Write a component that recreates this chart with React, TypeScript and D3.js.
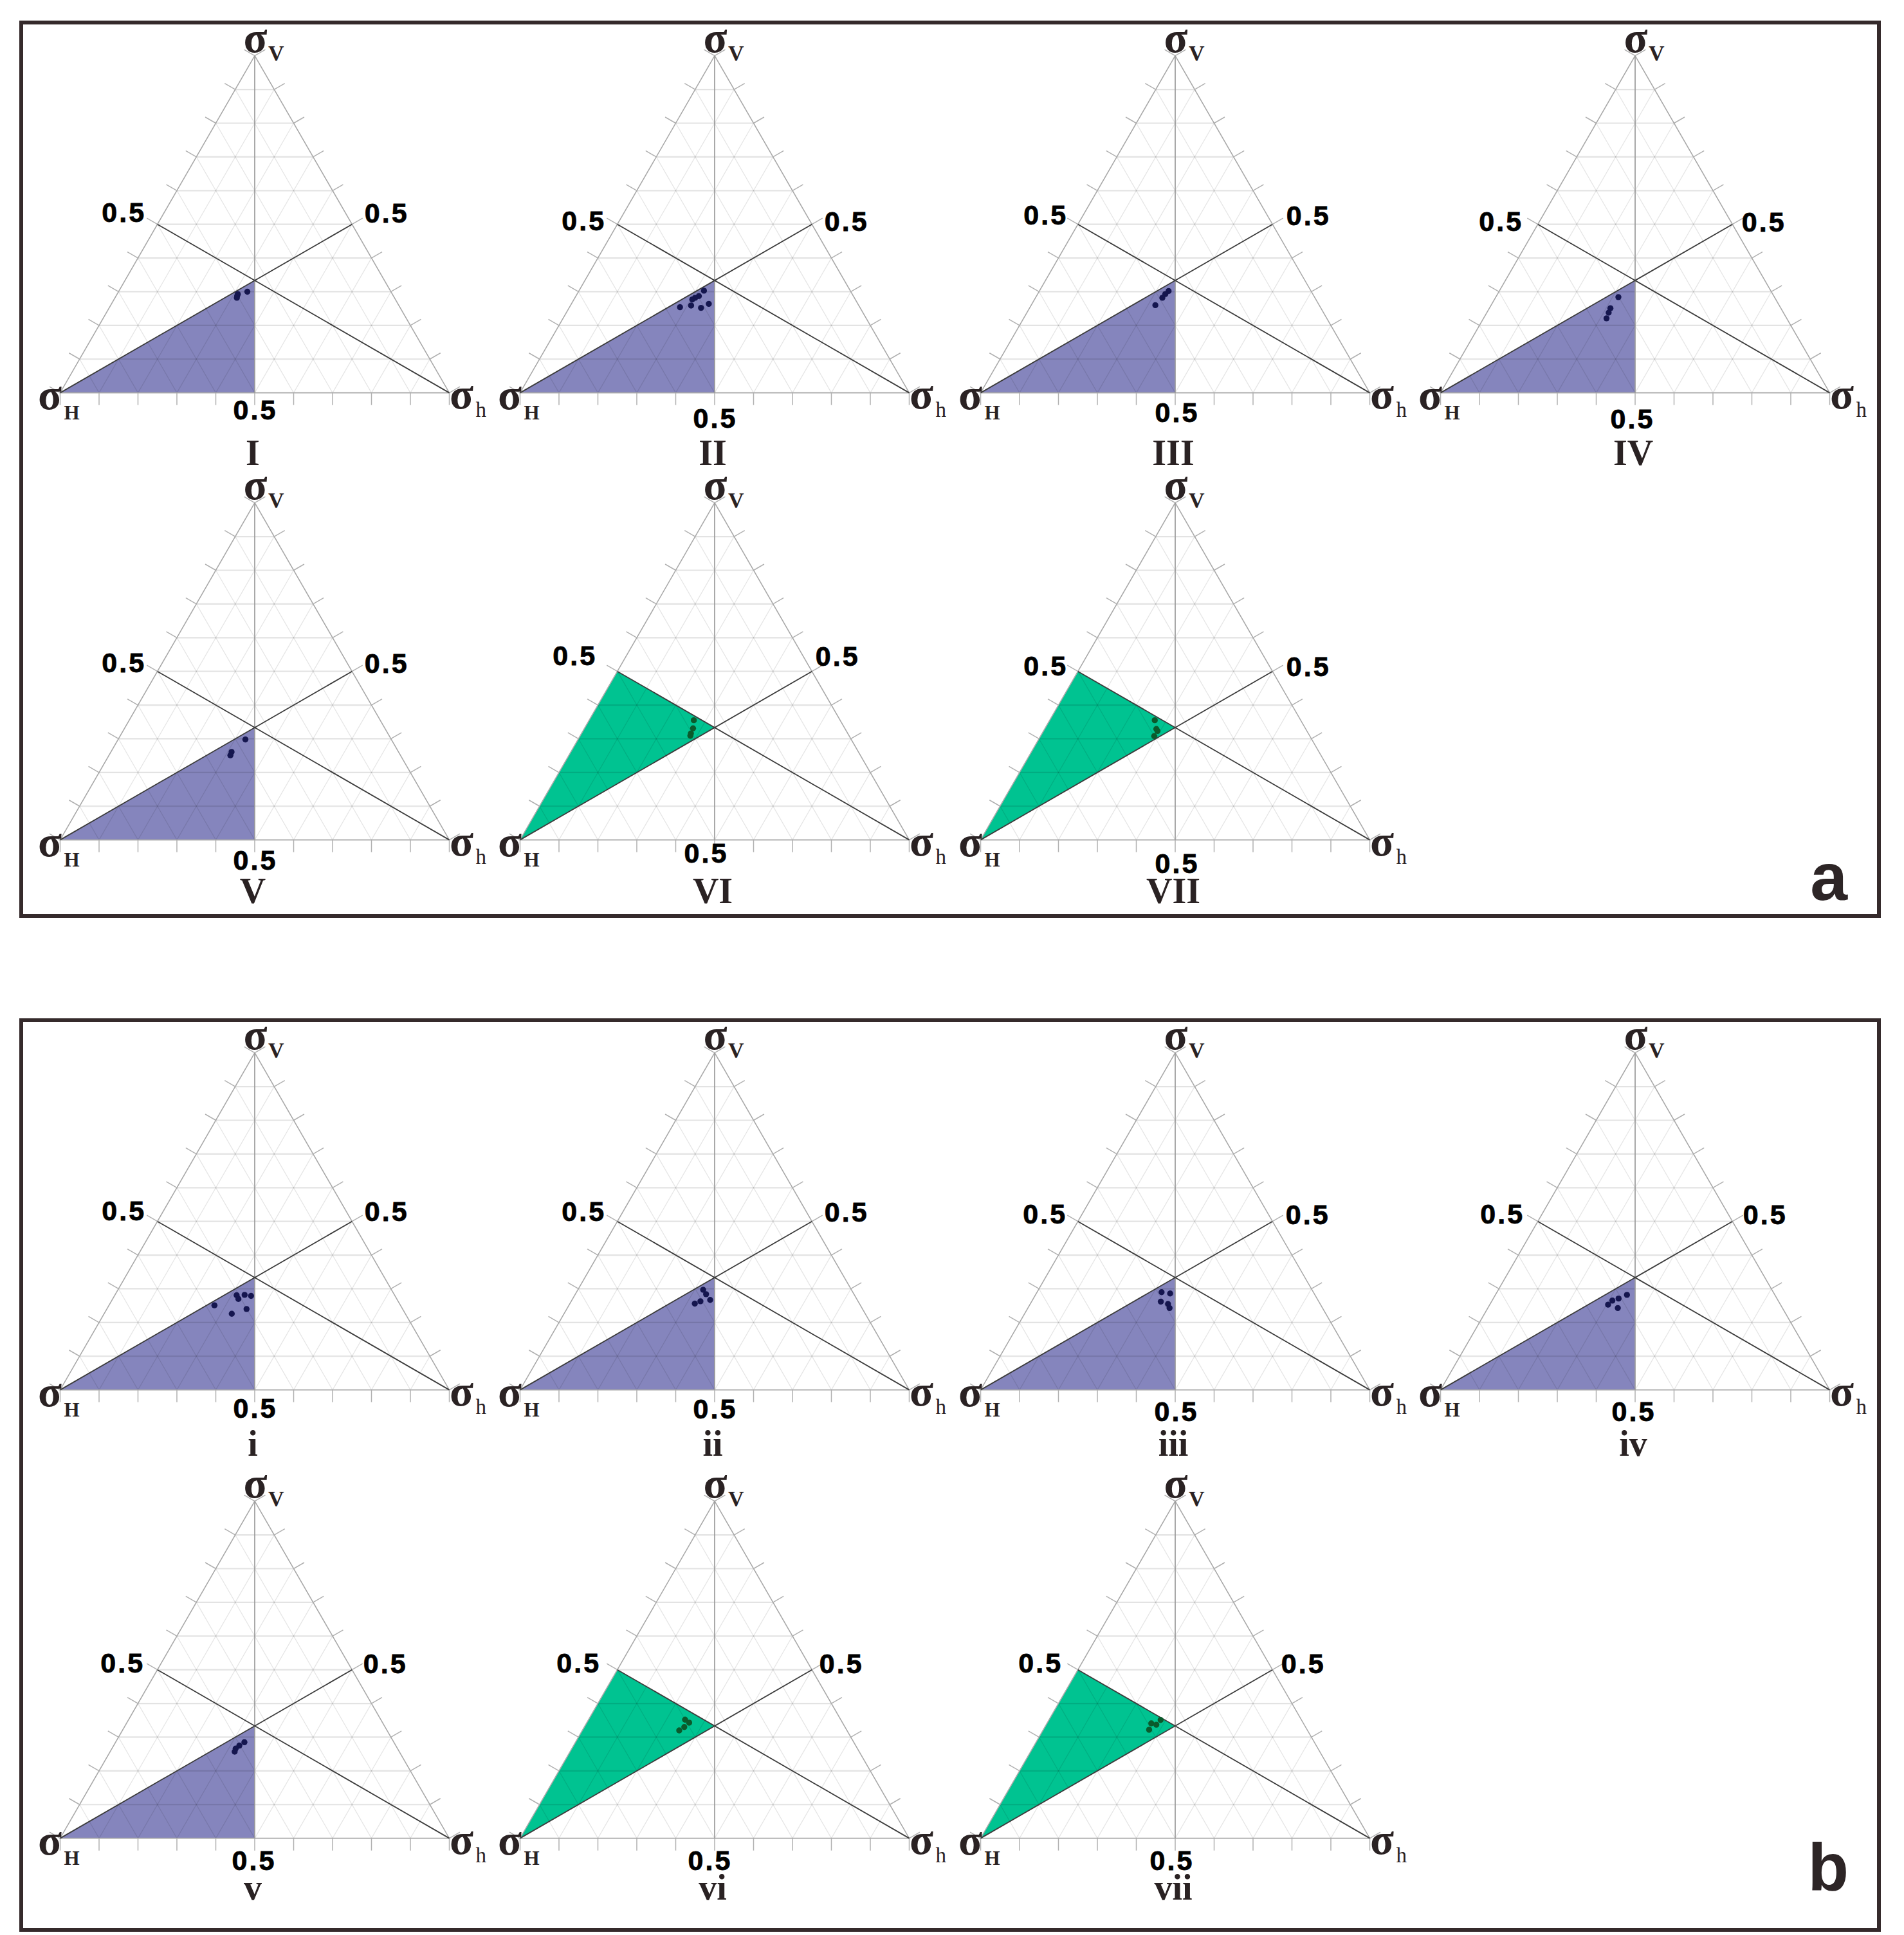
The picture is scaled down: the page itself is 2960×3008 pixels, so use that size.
import React, { useEffect, useRef } from 'react';
import * as d3 from 'd3';

// every point is [σH, σV, σh]
const panelNames = ['I', 'II', 'III', 'IV', 'V', 'VI', 'VII', 'i', 'ii', 'iii', 'iv', 'v', 'vi', 'vii'];
const panelRegimes = ['ss', 'ss', 'ss', 'ss', 'ss', 'tf', 'tf', 'ss', 'ss', 'ss', 'ss', 'ss', 'tf', 'tf'];

const dotsI = [[0.369, 0.300, 0.331], [0.397, 0.293, 0.310], [0.401, 0.288, 0.311], [0.405, 0.282, 0.313]];
const dotsII = [[0.376, 0.303, 0.321], [0.397, 0.287, 0.316], [0.409, 0.282, 0.309], [0.419, 0.277, 0.304],
    [0.462, 0.254, 0.284], [0.431, 0.259, 0.310], [0.409, 0.252, 0.339], [0.383, 0.264, 0.353]];
const dotsIII = [[0.366, 0.302, 0.332], [0.379, 0.293, 0.328], [0.392, 0.282, 0.326], [0.421, 0.260, 0.319]];
const dotsIV = [[0.401, 0.284, 0.315], [0.438, 0.251, 0.311], [0.449, 0.238, 0.313], [0.463, 0.221, 0.316]];
const dotsV = [[0.375, 0.298, 0.327], [0.429, 0.261, 0.310], [0.437, 0.251, 0.312]];
const dotsVI = [[0.376, 0.355, 0.269], [0.390, 0.331, 0.279], [0.403, 0.316, 0.281], [0.408, 0.309, 0.283]];
const dotsVII = [[0.375, 0.355, 0.270], [0.384, 0.329, 0.287], [0.384, 0.323, 0.293], [0.400, 0.308, 0.292]];
const dots_i = [[0.478, 0.251, 0.271], [0.406, 0.281, 0.313], [0.407, 0.270, 0.323], [0.385, 0.282, 0.333],
    [0.370, 0.279, 0.351], [0.446, 0.226, 0.328], [0.401, 0.240, 0.359]];
const dots_ii = [[0.381, 0.297, 0.322], [0.380, 0.284, 0.336], [0.378, 0.267, 0.355], [0.405, 0.263, 0.332], [0.423, 0.256, 0.321]];
const dots_iii = [[0.390, 0.290, 0.320], [0.370, 0.286, 0.344], [0.406, 0.262, 0.332], [0.391, 0.255, 0.354], [0.393, 0.243, 0.364]];
const dots_iv = [[0.380, 0.282, 0.338], [0.407, 0.271, 0.322], [0.426, 0.265, 0.309], [0.443, 0.253, 0.304], [0.423, 0.243, 0.334]];
const dots_v = [[0.384, 0.285, 0.331], [0.402, 0.275, 0.323], [0.416, 0.266, 0.318], [0.423, 0.257, 0.320]];
const dots_vi = [[0.400, 0.352, 0.248], [0.394, 0.343, 0.263], [0.413, 0.330, 0.257], [0.431, 0.320, 0.249]];
const dots_vii = [[0.362, 0.351, 0.287], [0.391, 0.341, 0.268], [0.380, 0.337, 0.283], [0.406, 0.322, 0.272]];

const panelDots = [dotsI, dotsII, dotsIII, dotsIV, dotsV, dotsVI, dotsVII,
    dots_i, dots_ii, dots_iii, dots_iv, dots_v, dots_vi, dots_vii];

const gridSteps = [0.1, 0.2, 0.3, 0.4, 0.5, 0.6, 0.7, 0.8, 0.9];
const tickSteps = [0, 0.1, 0.2, 0.3, 0.4, 0.5, 0.6, 0.7, 0.8, 0.9, 1];
const tickLabelValue = 0.5;
const tickLabelText = '0.5';
const figureLetters = ['a', 'b'];

// layout (pixels)
const W = 2960, H = 3008;
const SIDE = 605;
const SQ3 = Math.sqrt(3);
const HT = SIDE * SQ3 / 2;
const COL_X = [396, 1111, 1827, 2542];
const ROW_Y = [436, 1131, 1986, 2683];
const panelCell = [[0, 0], [1, 0], [2, 0], [3, 0], [0, 1], [1, 1], [2, 1],
    [0, 2], [1, 2], [2, 2], [3, 2], [0, 3], [1, 3], [2, 3]];
const labelShift = [[0, 0], [0, 13], [2, 4], [-5, 14], [0, 5], [-14, -6], [2, 10],
    [0, 2], [0, 3], [1, 7], [-3, 7], [-2, 8], [-8, 8], [-6, 8]];
const numeralDy = [287, 273, 277, 270];
const frames = [[33, 35, 2921, 1424], [33, 1586, 2921, 3000]];
const letterPos = [[2872, 1399], [2874, 2938]];

const FILL = { ss: '#8585bd', tf: '#00c391' };
const DOT = { ss: '#15164f', tf: '#0b5a2c' };
const INK = '#2a2223';

const App = () => {
    const svgRef = useRef(null);

    useEffect(() => {
        const svg = d3.select(svgRef.current);
        svg.selectAll('*').remove();

        svg.append('rect').attr('width', W).attr('height', H).attr('fill', '#fff');

        panelNames.forEach((name, i) => {
            const [col, row] = panelCell[i];
            const cx = COL_X[col];
            const cy = ROW_Y[row];
            const x = d3.scaleLinear().domain([0, 1]).range([cx - SIDE / 2, cx + SIDE / 2]);
            const y = d3.scaleLinear().domain([0, SQ3 / 2]).range([cy + HT / 3, cy - 2 * HT / 3]);
            const proj = (p) => {
                const s = p[0] + p[1] + p[2];
                const b = p[1] / s, c = p[2] / s;
                return [x(c + b / 2), y(b * SQ3 / 2)];
            };
            const line = d3.line().x(d => proj(d)[0]).y(d => proj(d)[1]);
            const g = svg.append('g');
            const regime = panelRegimes[i];

            const vH = [1, 0, 0], vV = [0, 1, 0], vh = [0, 0, 1];
            const mid = (p, q) => p.map((v, k) => (v + q[k]) / 2);
            const centre = [1 / 3, 1 / 3, 1 / 3];

            // regime field
            const field = regime === 'ss' ? [vH, mid(vH, vh), centre] : [vH, mid(vH, vV), centre];
            g.append('path').attr('d', line(field) + 'Z').attr('fill', FILL[regime]);

            // grid
            gridSteps.forEach(t => {
                g.append('path').attr('d', line([[1 - t, t, 0], [0, t, 1 - t]]))
                    .attr('stroke', '#000').attr('stroke-opacity', 0.11).attr('stroke-width', 2.2).attr('fill', 'none');
                g.append('path').attr('d', line([[1 - t, 0, t], [0, 1 - t, t]]))
                    .attr('stroke', '#000').attr('stroke-opacity', 0.1).attr('stroke-width', 1.3).attr('fill', 'none');
                g.append('path').attr('d', line([[t, 1 - t, 0], [t, 0, 1 - t]]))
                    .attr('stroke', '#000').attr('stroke-opacity', 0.1).attr('stroke-width', 1.3).attr('fill', 'none');
            });

            // frame of the triangle
            g.append('path').attr('d', line([vH, vh, vV]) + 'Z')
                .attr('stroke', '#a9a9a9').attr('stroke-width', 1.6).attr('fill', 'none');

            // ticks, perpendicular and outward
            const TL = 19;
            const sides = [
                { at: t => [1 - t, 0, t], n: [0, 1] },
                { at: t => [1 - t, t, 0], n: [-SQ3 / 2, -0.5] },
                { at: t => [0, t, 1 - t], n: [SQ3 / 2, -0.5] },
            ];
            sides.forEach(sd => {
                tickSteps.forEach(t => {
                    const [px, py] = proj(sd.at(t));
                    g.append('line').attr('x1', px).attr('y1', py)
                        .attr('x2', px + sd.n[0] * TL).attr('y2', py + sd.n[1] * TL)
                        .attr('stroke', '#b0b0b0').attr('stroke-width', 1.5);
                });
            });

            // medians
            g.append('path').attr('d', line([vV, mid(vH, vh)]))
                .attr('stroke', '#9a9a9a').attr('stroke-width', 1.7).attr('fill', 'none');
            g.append('path').attr('d', line([vh, mid(vH, vV)]))
                .attr('stroke', '#3c3c3c').attr('stroke-width', 1.8).attr('fill', 'none');
            g.append('path').attr('d', line([vH, mid(vV, vh)]))
                .attr('stroke', '#3c3c3c').attr('stroke-width', 1.8).attr('fill', 'none');

            // data
            g.selectAll('circle.pt').data(panelDots[i]).enter().append('circle')
                .attr('class', 'pt')
                .attr('cx', d => proj(d)[0]).attr('cy', d => proj(d)[1])
                .attr('r', 4.7).attr('fill', DOT[regime]);

            // vertex labels
            const serif = '"Liberation Serif", "Times New Roman", serif';
            const [ax, ay] = proj(vV);
            const [hx, hy] = proj(vH);
            const [rx, ry] = proj(vh);
            const sigma = (px, py) => g.append('text').attr('x', px).attr('y', py)
                .attr('text-anchor', 'middle').attr('font-family', serif).attr('font-weight', 'bold')
                .attr('font-size', 68).attr('fill', INK).text('σ');
            const sub = (px, py, txt, bold, size) => g.append('text').attr('x', px).attr('y', py)
                .attr('font-family', serif).attr('font-weight', bold ? 'bold' : 'normal')
                .attr('font-size', size).attr('fill', INK).text(txt);
            sigma(ax + 1, ay - 6); sub(ax + 21, ay + 7, 'V', true, 34);
            sigma(hx - 16, hy + 25); sub(hx + 6, hy + 41, 'H', true, 31);
            sigma(rx + 19, ry + 24); sub(rx + 41, ry + 37, 'h', false, 33);

            // 0.5 labels
            const [sx, sy] = labelShift[i];
            const tv = tickLabelValue;
            const lab = (p, dx, dy) => {
                const [px, py] = proj(p);
                g.append('text').attr('x', px + dx + sx).attr('y', py + dy + sy)
                    .attr('text-anchor', 'middle')
                    .attr('font-family', '"Liberation Sans", Arial, sans-serif').attr('font-weight', 'bold')
                    .attr('font-size', 43).attr('letter-spacing', 3).attr('fill', '#000')
                    .attr('stroke', '#000').attr('stroke-width', 0.8)
                    .text(tickLabelText);
            };
            lab([1 - tv, tv, 0], -52, -4);
            lab([0, tv, 1 - tv], 54, -3);
            lab([1 - tv, 0, tv], 1, 41);

            // panel numeral
            g.append('text').attr('x', cx - 3).attr('y', cy + numeralDy[row])
                .attr('text-anchor', 'middle').attr('font-family', serif).attr('font-weight', 'bold')
                .attr('font-size', 56).attr('fill', INK).text(name);
        });

        frames.forEach(([x0, y0, x1, y1], k) => {
            svg.append('rect').attr('x', x0).attr('y', y0).attr('width', x1 - x0).attr('height', y1 - y0)
                .attr('fill', 'none').attr('stroke', '#352a2b').attr('stroke-width', 6);
            svg.append('text').attr('x', letterPos[k][0]).attr('y', letterPos[k][1])
                .attr('text-anchor', 'end').attr('font-family', '"Liberation Sans", Arial, sans-serif')
                .attr('font-weight', 'bold').attr('font-size', 104).attr('fill', '#2d2526')
                .text(figureLetters[k]);
        });
    }, []);

    return (
        <svg ref={svgRef} width={W} height={H}
            style={{ position: 'absolute', left: 0, top: 0, display: 'block' }} />
    );
};

export default App;
